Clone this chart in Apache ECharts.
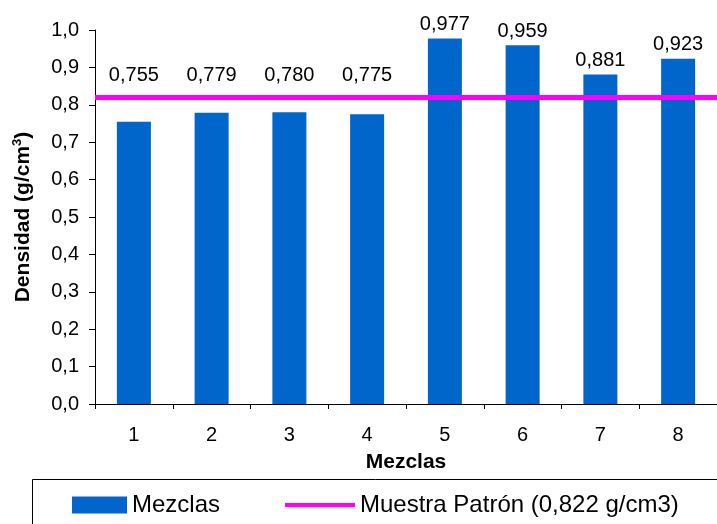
<!DOCTYPE html>
<html>
<head>
<meta charset="utf-8">
<script src="https://cdn.jsdelivr.net/npm/echarts@6/dist/echarts.min.js"></script>
<style>
  html, body { margin: 0; padding: 0; background: #fff; }
  #chart { width: 717px; height: 524px; }
</style>
</head>
<body>
<div id="chart"></div>
<script>
// Density of each mixture (g/cm3) and the reference sample
const categories = ['1', '2', '3', '4', '5', '6', '7', '8'];
const densities = [0.755, 0.779, 0.780, 0.775, 0.977, 0.959, 0.881, 0.923];
const referenceDensity = 0.822;
const yTicks = [0, 0.1, 0.2, 0.3, 0.4, 0.5, 0.6, 0.7, 0.8, 0.9, 1.0];

const font = 'Arial, "Liberation Sans", sans-serif';
const gridTop = 30, gridBottom = 120;
const plotHeight = 524 - gridTop - gridBottom;
// Labels of bars under the reference line are lifted above it
const liftedLevel = 0.877;

const fmt = v => v.toFixed(3).replace('.', ',');

const barData = densities.map(v => {
  const item = { value: v };
  if (v < referenceDensity) {
    item.label = { offset: [0, -(liftedLevel - v) * plotHeight + 13] };
  }
  return item;
});

const chart = echarts.init(document.getElementById('chart'));
chart.setOption({
  animation: false,
  textStyle: { fontFamily: font },
  grid: { left: 95, right: 0, top: gridTop, bottom: gridBottom },
  xAxis: {
    type: 'category',
    data: categories,
    name: 'Mezclas',
    nameLocation: 'middle',
    nameGap: 48,
    nameTextStyle: { fontSize: 21, fontWeight: 'bold', color: '#000', fontFamily: font },
    axisLine: { lineStyle: { color: '#000', width: 1 } },
    axisTick: { show: true, length: 5, lineStyle: { color: '#000' } },
    axisLabel: { fontSize: 20, color: '#000', margin: 21, fontFamily: font }
  },
  yAxis: {
    type: 'value',
    min: yTicks[0],
    max: yTicks[yTicks.length - 1],
    interval: 0.1,
    name: '{a|Densidad (g/cm}{s|3}{a|)}',
    nameLocation: 'middle',
    nameGap: 60,
    nameTextStyle: {
      color: '#000', fontFamily: font,
      rich: {
        a: { fontSize: 21, fontWeight: 'bold', color: '#000', fontFamily: font, lineHeight: 24 },
        s: { fontSize: 13, fontWeight: 'bold', color: '#000', fontFamily: font, verticalAlign: 'top' }
      }
    },
    axisLine: { show: true, lineStyle: { color: '#000', width: 1 } },
    axisTick: { show: true, length: 6, lineStyle: { color: '#000' } },
    splitLine: { show: false },
    axisLabel: {
      fontSize: 20, color: '#000', margin: 16, fontFamily: font,
      formatter: v => v.toFixed(1).replace('.', ',')
    }
  },
  legend: [
    {
      data: ['Mezclas'],
      left: 67, top: 488,
      icon: 'rect',
      itemWidth: 55, itemHeight: 17,
      textStyle: { fontSize: 24, color: '#000', fontFamily: font }
    },
    {
      data: ['Muestra Patrón (0,822 g/cm3)'],
      left: 280, top: 488,
      icon: 'rect',
      itemWidth: 70, itemHeight: 4,
      textStyle: { fontSize: 24, color: '#000', fontFamily: font }
    }
  ],
  graphic: [{
    type: 'rect',
    shape: { x: 32.5, y: 479.5, width: 720, height: 60 },
    style: { fill: 'none', stroke: '#000', lineWidth: 1 },
    z: -1
  }],
  series: [
    {
      name: 'Mezclas',
      type: 'bar',
      data: barData,
      barWidth: 34,
      itemStyle: { color: '#0066CC' },
      label: {
        show: true,
        position: 'top',
        distance: 4,
        fontSize: 20,
        color: '#000',
        fontFamily: font,
        formatter: p => fmt(p.value)
      }
    },
    {
      name: 'Muestra Patrón (0,822 g/cm3)',
      type: 'line',
      data: [],
      itemStyle: { color: '#FF00FF' },
      lineStyle: { color: '#FF00FF', width: 4 },
      markLine: {
        silent: true,
        symbol: ['none', 'none'],
        label: { show: false },
        lineStyle: { color: '#FF00FF', width: 5, type: 'solid' },
        data: [{ yAxis: referenceDensity }]
      }
    }
  ]
});
</script>
</body>
</html>
